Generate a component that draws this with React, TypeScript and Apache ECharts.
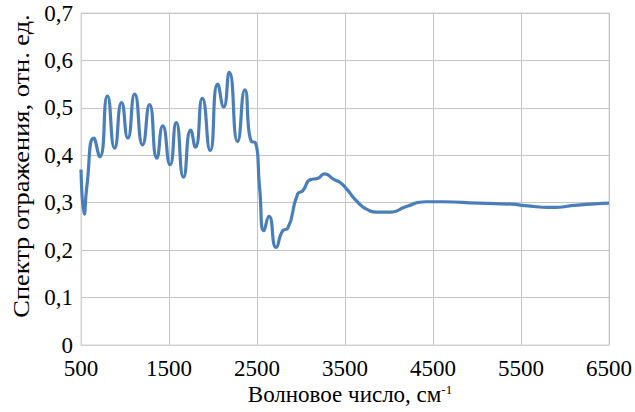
import React, { useEffect, useRef } from "react";
import * as echarts from "echarts";

const waveNumbers = [
  500, 537, 564, 646, 714, 800, 882, 961, 1032, 1110, 1200, 1279, 1362, 1429,
  1512, 1582, 1665, 1747, 1800, 1879, 1968, 2054, 2121, 2185, 2279, 2362,
  2436, 2481, 2530, 2579, 2636, 2718, 2793, 2849, 2961, 3018, 3111, 3186,
  3268, 3373, 3448, 3522, 3640, 3760, 3860, 4010, 4197, 4421, 4609, 5020,
  5395, 5545, 5845, 6144, 6500,
];
const reflectance = [
  0.37, 0.276, 0.33, 0.436, 0.397, 0.525, 0.415, 0.511, 0.436, 0.529, 0.422,
  0.507, 0.394, 0.462, 0.38, 0.469, 0.354, 0.453, 0.417, 0.52, 0.41, 0.55,
  0.502, 0.575, 0.429, 0.538, 0.429, 0.427, 0.33, 0.241, 0.271, 0.206, 0.241,
  0.246, 0.318, 0.325, 0.349, 0.351, 0.361, 0.349, 0.342, 0.328, 0.302, 0.285,
  0.28, 0.28, 0.292, 0.302, 0.302, 0.299, 0.297, 0.294, 0.29, 0.295, 0.299,
];
const xTitle = "Волновое число, см";
const yTitle = "Спектр отражения, отн. ед.";

const FONT = "'Liberation Serif', 'Times New Roman', Times, serif";

export default function App() {
  const ref = useRef<HTMLDivElement>(null);
  useEffect(() => {
    if (!ref.current) return;
    const chart = echarts.init(ref.current, null, { renderer: "svg" });
    chart.setOption({
      animation: false,
      backgroundColor: "#ffffff",
      textStyle: { fontFamily: FONT },
      grid: { left: 81, right: 20, top: 13, bottom: 67, containLabel: false, show: true, borderColor: "#d4d4d4", borderWidth: 1 },
      xAxis: {
        type: "value",
        min: 500,
        max: 6500,
        interval: 1000,
        axisLine: { show: true, lineStyle: { color: "#d0d0d0", width: 1 } },
        axisTick: { show: false },
        splitLine: { show: true, lineStyle: { color: "#c4c4c4", width: 1 } },
        axisLabel: {
          color: "#000",
          fontFamily: FONT,
          fontSize: 23,
          margin: 12,
          formatter: (v: number) => String(v),
        },
      },
      yAxis: {
        type: "value",
        min: 0,
        max: 0.7,
        interval: 0.1,
        axisLine: { show: true, lineStyle: { color: "#d0d0d0", width: 1 } },
        axisTick: { show: false },
        splitLine: { show: true, lineStyle: { color: "#c4c4c4", width: 1 } },
        axisLabel: {
          color: "#000",
          fontFamily: FONT,
          fontSize: 23,
          margin: 8,
          formatter: (v: number) => (Math.round(v * 10) / 10).toString().replace(".", ","),
        },
      },
      graphic: [
        {
          type: "text",
          x: 21,
          y: 166,
          rotation: Math.PI / 2,
          scaleX: 1.1,
          style: {
            text: yTitle,
            fontFamily: FONT,
            fontSize: 24,
            fill: "#000",
            align: "center",
            verticalAlign: "middle",
          },
        },
        {
          type: "text",
          x: 350,
          y: 394,
          style: {
            text: "{a|" + xTitle + "}{s|-1}",
            fontFamily: FONT,
            fontSize: 23,
            fill: "#000",
            align: "center",
            verticalAlign: "middle",
            rich: {
              a: { fontFamily: FONT, fontSize: 23, fill: "#000" },
              s: { fontFamily: FONT, fontSize: 13, fill: "#000", verticalAlign: "top", padding: [0, 0, 8, 0] },
            },
          },
        },
      ],
      series: [
        {
          type: "line",
          data: waveNumbers.map((x, i) => [x, reflectance[i]]),
          smooth: 0.6,
          showSymbol: false,
          lineStyle: { color: "#4A7EBB", width: 3.2 },
        },
      ],
    });
    return () => chart.dispose();
  }, []);
  return (
    <div
      ref={ref}
      style={{ position: "fixed", left: 0, top: 0, width: 635, height: 412 }}
    />
  );
}
